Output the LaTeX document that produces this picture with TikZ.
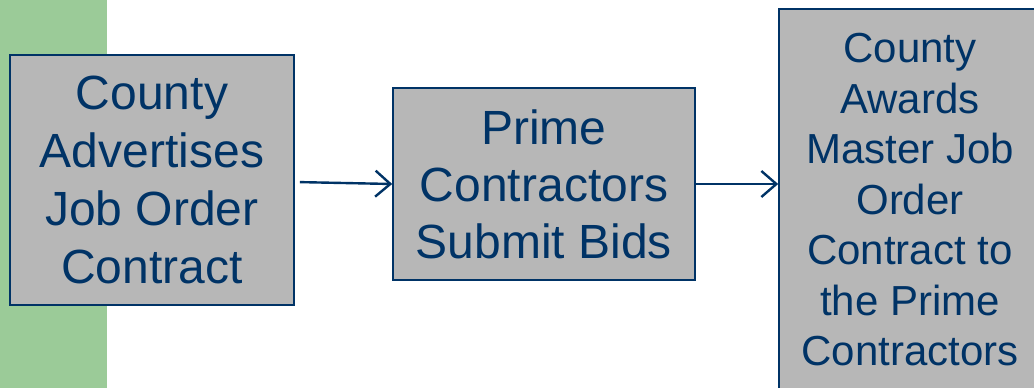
\documentclass[tikz,border=0pt]{standalone}
\usepackage{fontspec}
\setmainfont{Liberation Sans}
\usetikzlibrary{arrows.meta}
\definecolor{navy}{HTML}{003366}
\definecolor{boxgrey}{HTML}{B7B7B7}
\definecolor{leafgreen}{HTML}{9BCB98}

\begin{document}
\begin{tikzpicture}[x=1pt,y=-1pt,>={Straight Barb[length=15pt,width=26pt,line width=2.4pt]},
    stage/.style={draw=navy,fill=boxgrey,line width=1.6pt,text=navy,align=center,inner sep=0pt},
    flow/.style={->,draw=navy,line width=2.4pt}]
    \useasboundingbox (0,0) rectangle (1034,388);
    \clip (0,0) rectangle (1034,388);
    \fill[leafgreen] (0,0) rectangle (107,388);
    \node[stage,minimum width=284pt,minimum height=250pt,font=\fontsize{48}{58}\selectfont] (advertise) at (152,180) {County\\Advertises\\Job Order\\Contract};
    \node[stage,minimum width=302pt,minimum height=192pt,font=\fontsize{48}{57}\selectfont] (bids) at (544,184) {Prime\\Contractors\\Submit Bids};
    \node[stage,minimum width=262pt,minimum height=382pt,font=\fontsize{42}{50.5}\selectfont] (award) at (910,200) {County\\Awards\\Master Job\\Order\\Contract to\\the Prime\\Contractors};
    \draw[flow,shorten <=5pt] (advertise.east) ++(0,2) -- (bids.west);
    \draw[flow] (bids.east) -- (bids.east -| award.west);
\end{tikzpicture}
\end{document}
